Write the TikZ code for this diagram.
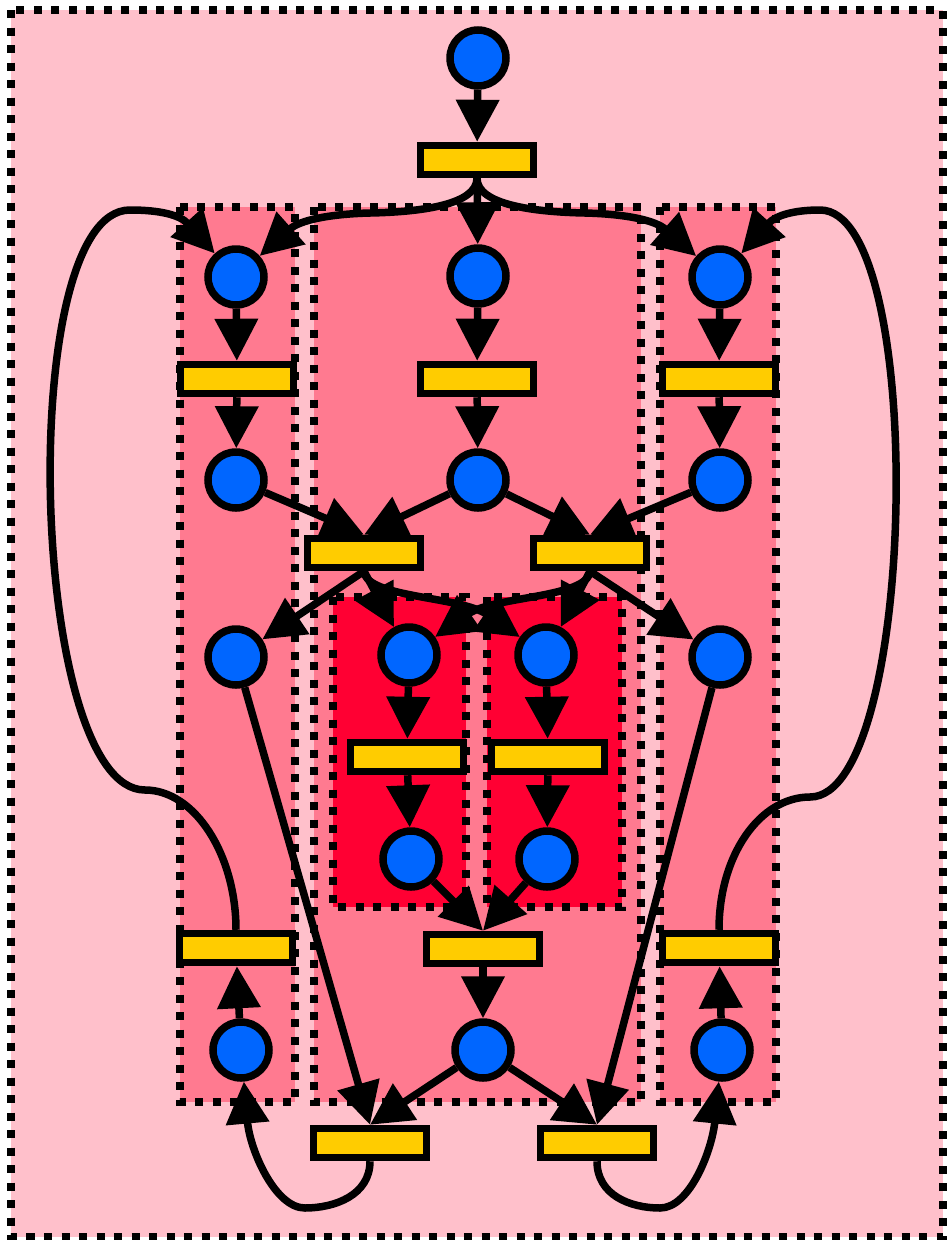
\documentclass[tikz,border=0pt]{standalone}
\usetikzlibrary{arrows.meta}

\definecolor{netpink}{HTML}{FFC0CB}
\definecolor{netrose}{HTML}{FF7A90}
\definecolor{netred}{HTML}{FF0033}
\definecolor{netblue}{HTML}{0066FF}
\definecolor{netgold}{HTML}{FFCC00}

\begin{document}
\begin{tikzpicture}[x=1pt, y=-1pt, line width=7.5pt,
  place/.style={circle, draw, fill=netblue, minimum size=56pt, inner sep=0pt},
  trans/.style={rectangle, draw, fill=netgold, minimum width=113pt, minimum height=29pt, inner sep=0pt},
  cluster/.style={draw, dash pattern=on 8pt off 9.5pt},
  arc/.style={-{Triangle[length=42pt, width=42pt]}}]
\useasboundingbox (0,0) rectangle (946,1240);

% clusters
\filldraw[cluster, fill=netpink] (11,10) rectangle (943,1237);
\filldraw[cluster, fill=netrose] (180,207) rectangle (295,1102);
\filldraw[cluster, fill=netrose] (314,207) rectangle (641,1102);
\filldraw[cluster, fill=netrose] (660,207) rectangle (776,1102);
\filldraw[cluster, fill=netred] (333,597) rectangle (466,907);
\filldraw[cluster, fill=netred] (487,597) rectangle (622,907);

% places and transitions
\node[place] (p0) at (478,58) {};
\node[trans] (t0) at (477,160) {};
\node[place] (p1) at (236,277) {};
\node[place] (p2) at (478,276) {};
\node[place] (p3) at (720,277) {};
\node[trans] (t1) at (237,379) {};
\node[trans] (t2) at (477,379) {};
\node[trans] (t3) at (719,379) {};
\node[place] (p4) at (236,480) {};
\node[place] (p5) at (478,480) {};
\node[place] (p6) at (720,480) {};
\node[trans] (t4) at (364,553) {};
\node[trans] (t5) at (590,553) {};
\node[place] (p7) at (236,657) {};
\node[place] (p8) at (409,655) {};
\node[place] (p9) at (546,655) {};
\node[place] (p10) at (720,657) {};
\node[trans] (t6) at (407,757) {};
\node[trans] (t7) at (548,757) {};
\node[place] (p11) at (411,859) {};
\node[place] (p12) at (547,859) {};
\node[trans] (t8) at (483,949) {};
\node[trans] (t9) at (236,948) {};
\node[trans] (t10) at (719,948) {};
\node[place] (p13) at (241,1050) {};
\node[place] (p14) at (483,1050) {};
\node[place] (p15) at (722,1050) {};
\node[trans] (t11) at (370,1143) {};
\node[trans] (t12) at (597,1143) {};

% arcs
\draw[arc] (p0) -- (t0);
\draw[arc] (t0) -- (p2);
\draw[arc] (t0.south) .. controls (477,205) and (420,212) .. (370,213)
                      .. controls (330,214) and (300,220) .. (p1);
\draw[arc] (t0.south) .. controls (477,205) and (535,212) .. (585,213)
                      .. controls (625,214) and (655,220) .. (p3);
\draw[arc] (p1) -- (t1);
\draw[arc] (t1) -- (p4);
\draw[arc] (p2) -- (t2);
\draw[arc] (t2) -- (p5);
\draw[arc] (p3) -- (t3);
\draw[arc] (t3) -- (p6);
\draw[arc] (p4) -- (t4.north);
\draw[arc] (p5) -- (t4.north);
\draw[arc] (p5) -- (t5.north);
\draw[arc] (p6) -- (t5.north);
\draw[arc] (t4.south) -- (p7);
\draw[arc] (t4.south) -- (p8);
\draw[arc] (t4.south) .. controls (366,598) and (460,596) .. (p9);
\draw[arc] (t5.south) -- (p10);
\draw[arc] (t5.south) -- (p9);
\draw[arc] (t5.south) .. controls (588,598) and (494,596) .. (p8);
\draw[arc] (p8) -- (t6);
\draw[arc] (t6) -- (p11);
\draw[arc] (p9) -- (t7);
\draw[arc] (t7) -- (p12);
\draw[arc] (p11) -- (t8.north);
\draw[arc] (p12) -- (t8.north);
\draw[arc] (t8) -- (p14);
\draw[arc] (p7) -- (t11.north);
\draw[arc] (p14) -- (t11.north);
\draw[arc] (p14) -- (t12.north);
\draw[arc] (p10) -- (t12.north);
\draw[arc] (p13) -- (t9);
\draw[arc] (p15) -- (t10);
\draw[arc] (t11.south) .. controls (370,1195) and (335,1208) .. (305,1208)
                       .. controls (275,1208) and (250,1150) .. (p13);
\draw[arc] (t12.south) .. controls (597,1195) and (630,1208) .. (660,1208)
                       .. controls (690,1208) and (712,1150) .. (p15);
\draw[arc] (t9.north) .. controls (236,855) and (195,790) .. (145,790)
                      .. controls (29,790) and (14,210) .. (130,210)
                      .. controls (160,210) and (180,215) .. (p1);
\draw[arc] (t10.north) .. controls (719,855) and (760,797) .. (810,797)
                       .. controls (918,797) and (928,210) .. (820,210)
                       .. controls (795,210) and (776,215) .. (p3);
\end{tikzpicture}
\end{document}
